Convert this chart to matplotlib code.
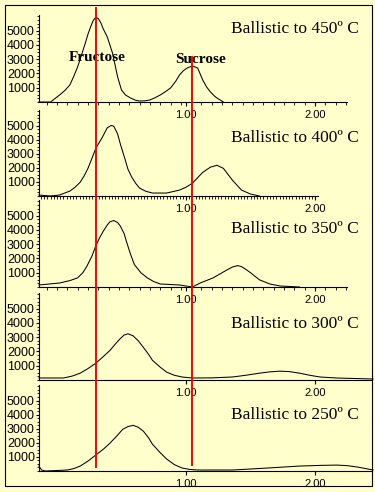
"""Ballistic temperature runs: fructose / sucrose chromatograms, stacked by final temperature."""

import matplotlib

matplotlib.use("Agg")
import matplotlib.pyplot as plt
from matplotlib.lines import Line2D
from matplotlib.patches import Rectangle
from matplotlib.ticker import FixedLocator, MultipleLocator, NullLocator
from matplotlib.transforms import blended_transform_factory

# --- data: retention time (axis units) and detector counts ---
TEMPS = [450, 400, 350, 300, 250]

RT_450 = [-0.14, -0.05, 0.02, 0.06, 0.10, 0.13, 0.16, 0.19, 0.22, 0.24, 0.26, 0.28,
          0.30, 0.32, 0.34, 0.36, 0.39, 0.43, 0.45, 0.47, 0.50, 0.53, 0.57, 0.61,
          0.64, 0.68, 0.72, 0.76, 0.80, 0.84, 0.88, 0.92, 0.95, 0.98, 1.01, 1.05,
          1.09, 1.13, 1.16, 1.19, 1.22, 1.24, 1.29]
CNT_450 = [0, 0, 490, 800, 1200, 1800, 2460, 3300, 4140, 4750, 5260, 5700,
           5950, 5850, 5550, 5100, 4560, 3440, 2600, 1750, 840, 500, 280, 120,
           70, 80, 140, 300, 490, 720, 980, 1450, 1900, 2200, 2390, 2530,
           2390, 1540, 1050, 700, 420, 280, 0]

RT_400 = [-0.14, -0.05, 0.02, 0.10, 0.14, 0.18, 0.21, 0.24, 0.27, 0.30, 0.35, 0.39,
          0.42, 0.44, 0.47, 0.49, 0.53, 0.55, 0.58, 0.61, 0.64, 0.69, 0.74, 0.85,
          0.95, 1.00, 1.05, 1.13, 1.19, 1.24, 1.29, 1.36, 1.43, 1.50, 1.57]
CNT_400 = [70, 0, 70, 350, 620, 980, 1420, 1960, 2650, 3370, 4140, 4840,
           5000, 4950, 4400, 3720, 2530, 1900, 1330, 900, 560, 330, 210, 210,
           420, 620, 910, 1680, 2050, 2180, 1960, 1120, 420, 140, 0]

RT_350 = [-0.14, 0.02, 0.10, 0.16, 0.20, 0.23, 0.27, 0.30, 0.33, 0.36, 0.39, 0.41,
          0.44, 0.47, 0.49, 0.52, 0.54, 0.57, 0.60, 0.65, 0.70, 0.75, 0.80, 0.95,
          1.05, 1.11, 1.21, 1.27, 1.32, 1.36, 1.40, 1.43, 1.47, 1.50, 1.57, 1.65,
          1.73, 1.88]
CNT_350 = [140, 280, 450, 640, 1000, 1430, 2150, 2860, 3450, 3930, 4350, 4570,
           4660, 4520, 4290, 3750, 3140, 2300, 1570, 1000, 640, 380, 210, 140,
           0, 280, 640, 950, 1210, 1400, 1500, 1430, 1200, 1000, 500, 210,
           70, 0]

RT_300 = [-0.14, 0.05, 0.12, 0.18, 0.24, 0.30, 0.36, 0.41, 0.45, 0.49, 0.52, 0.55,
          0.59, 0.63, 0.67, 0.71, 0.74, 0.80, 0.85, 0.91, 0.97, 1.05, 1.20, 1.36,
          1.47, 1.57, 1.65, 1.73, 1.80, 1.88, 1.96, 2.04, 2.17, 2.45]
CNT_300 = [140, 140, 280, 480, 800, 1170, 1650, 2070, 2500, 2900, 3150, 3240,
           3100, 2750, 2280, 1800, 1380, 900, 550, 330, 210, 140, 150, 210,
           340, 480, 570, 620, 590, 480, 330, 210, 140, 70]

RT_250 = [-0.14, -0.12, -0.09, 0.08, 0.13, 0.18, 0.24, 0.30, 0.36, 0.41, 0.46, 0.51,
          0.55, 0.59, 0.63, 0.67, 0.71, 0.74, 0.80, 0.85, 0.91, 0.97, 1.03, 1.09,
          1.36, 1.63, 1.88, 2.05, 2.17, 2.25, 2.33, 2.45]
CNT_250 = [350, 70, 0, 70, 170, 350, 700, 1130, 1550, 1970, 2450, 2960,
           3150, 3240, 3100, 2820, 2350, 1900, 1300, 850, 450, 210, 110, 70,
           70, 210, 350, 400, 420, 380, 280, 70]

RUNS_RT = [RT_450, RT_400, RT_350, RT_300, RT_250]
RUNS_CNT = [CNT_450, CNT_400, CNT_350, CNT_300, CNT_250]

FRUCTOSE_RT = 0.30
SUCROSE_RT = 1.05

Y_TICKS = [1000, 2000, 3000, 4000, 5000]
X_TICKS = [1.0, 2.0]
X_TICK_LABELS = ["1.00", "2.00"]

# --- layout (pixels of the 375x492 original) ---
W, H = 375, 492
LEFT_PX = 39
X0_PX, PX_PER_UNIT = 57, 129          # where x=0 sits and px per axis unit
PANELS_PX = [(15, 102, 347), (110, 196, 318), (200, 287, 347),
             (293, 380, 372), (385, 471, 372)]   # top, bottom, right
X_MINOR = [0.08, 0.025, 0.08, None, None]
TITLE_Y = [5100, 4100, 4100, 3950, 3950]
YMAX = 6100

BG = "#FFFFCC"
SERIF = ["Liberation Serif", "DejaVu Serif"]

plt.rcParams.update({
    "font.family": ["Liberation Sans", "DejaVu Sans"],
    "axes.linewidth": 0.8,
})

fig = plt.figure(figsize=(W / 100, H / 100), dpi=100, facecolor=BG)

axes = []
for i, (top, bot, right) in enumerate(PANELS_PX):
    ax = fig.add_axes([LEFT_PX / W, 1 - bot / H, (right - LEFT_PX) / W, (bot - top) / H])
    ax.patch.set_visible(False)
    ax.plot(RUNS_RT[i], RUNS_CNT[i], color="black", lw=0.75, clip_on=False)

    ax.set_xlim((LEFT_PX - X0_PX) / PX_PER_UNIT, (right - X0_PX) / PX_PER_UNIT)
    ax.set_ylim(0, YMAX)
    for side in ("top", "right"):
        ax.spines[side].set_visible(False)

    ax.yaxis.set_major_locator(FixedLocator(Y_TICKS))
    ax.yaxis.set_minor_locator(MultipleLocator(250))
    ax.set_xticks(X_TICKS, X_TICK_LABELS)
    if X_MINOR[i]:
        ax.xaxis.set_minor_locator(MultipleLocator(X_MINOR[i]))
    else:
        ax.xaxis.set_minor_locator(NullLocator())

    ax.tick_params(axis="y", which="major", length=2, width=0.8, pad=1, labelsize=9)
    ax.tick_params(axis="y", which="minor", length=1.5, width=0.6)
    ax.tick_params(axis="x", which="major", length=3, width=0.8, pad=3, labelsize=8)
    ax.tick_params(axis="x", which="minor", length=2, width=0.6)

    ax.text(1.35, TITLE_Y[i], f"Ballistic to {TEMPS[i]}º C", family=SERIF,
            fontsize=12.5, ha="left", va="center", zorder=5)
    axes.append(ax)

# peak labels on the top run
axes[0].text(0.09, 3090, "Fructose", family=SERIF, fontsize=11, fontweight="bold",
             ha="left", va="center", zorder=5)
axes[0].text(0.92, 2950, "Sucrose", family=SERIF, fontsize=11, fontweight="bold",
             ha="left", va="center", zorder=5)

# red retention-time markers running through all panels
tr = blended_transform_factory(axes[-1].transData, fig.transFigure)
fig.add_artist(Line2D([FRUCTOSE_RT, FRUCTOSE_RT], [1 - 8 / H, 1 - 467 / H],
                      transform=tr, color="red", lw=1.4, zorder=3))
fig.add_artist(Line2D([SUCROSE_RT, SUCROSE_RT], [1 - 57 / H, 1 - 465 / H],
                      transform=tr, color="red", lw=1.4, zorder=3))

# outer frame
fig.add_artist(Rectangle((5 / W, 1 - 486 / H), (372 - 5) / W, (486 - 5) / H,
                         transform=fig.transFigure, fill=False, ec="black", lw=0.8))

fig.savefig("out.png", dpi=100, facecolor=BG)
